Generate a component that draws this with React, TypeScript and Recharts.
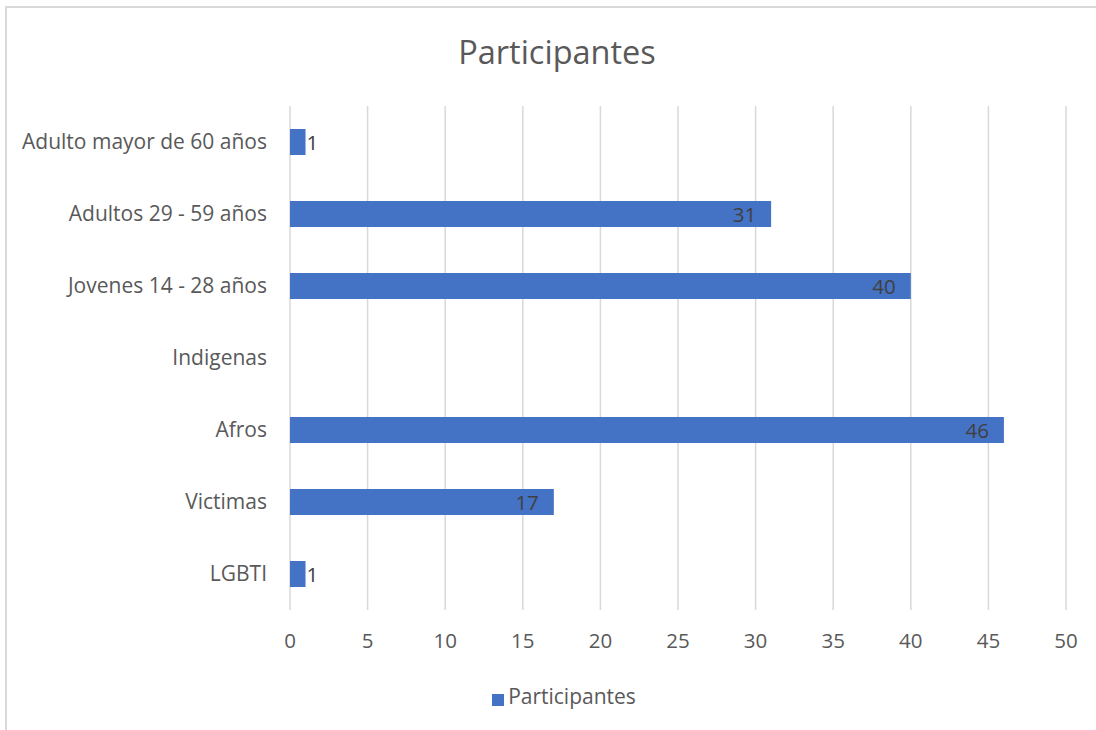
import React from "react";
import {
  BarChart,
  Bar,
  XAxis,
  YAxis,
  CartesianGrid,
  Legend,
  LabelList,
} from "recharts";

const categories = [
  "Adulto mayor de 60 años",
  "Adultos 29 - 59 años",
  "Jovenes 14 - 28 años",
  "Indigenas",
  "Afros",
  "Victimas",
  "LGBTI",
];
const participantes = [1, 31, 40, 0, 46, 17, 1];
const xTicks = [0, 5, 10, 15, 20, 25, 30, 35, 40, 45, 50];

const data = categories.map((name, i) => ({
  name,
  Participantes: participantes[i] || null,
}));

const FONT = "'Open Sans', 'Noto Sans', sans-serif";

function BarLabel(props: any) {
  const { x, y, width, height, value } = props;
  if (!value) return null;
  const inside = width > 40;
  return (
    <text
      x={inside ? x + width - 15 : x + width + 1}
      y={y + height / 2}
      textAnchor={inside ? "end" : "start"}
      dominantBaseline="central"
      fill="#404040"
      fontSize={20.5}
    >
      {value}
    </text>
  );
}

export default function App() {
  return (
    <div
      style={{
        position: "absolute",
        left: 0,
        top: 0,
        width: 1096,
        height: 730,
        overflow: "hidden",
        background: "#fff",
        fontFamily: FONT,
      }}
    >
      <div
        style={{
          position: "absolute",
          left: 5,
          top: 6,
          width: 1200,
          height: 900,
          border: "2px solid #d9d9d9",
        }}
      />
      <div
        style={{
          position: "absolute",
          left: 357,
          top: 29,
          width: 400,
          textAlign: "center",
          fontSize: 32.5,
          color: "#595959",
        }}
      >
        Participantes
      </div>
      <BarChart
        width={1096}
        height={730}
        data={data}
        layout="vertical"
        margin={{ top: 106, right: 30, left: 0, bottom: 20 }}
        barSize={26}
      >
        <CartesianGrid horizontal={false} stroke="#d9d9d9" strokeWidth={1.5} />
        <XAxis
          type="number"
          domain={[0, 50]}
          ticks={xTicks}
          axisLine={false}
          tickLine={false}
          tickSize={0}
          tickMargin={23}
          height={72}
          tick={{ fill: "#595959", fontSize: 20.5 }}
        />
        <YAxis
          type="category"
          dataKey="name"
          width={290}
          axisLine={false}
          tickLine={false}
          tickSize={0}
          tickMargin={23}
          tick={{ fill: "#595959", fontSize: 21 }}
        />
        <Legend
          verticalAlign="bottom"
          align="center"
          iconType="square"
          iconSize={12}
          wrapperStyle={{ paddingLeft: 36 }}
          formatter={(v) => (
            <span style={{ color: "#595959", fontSize: 21 }}>{v}</span>
          )}
        />
        <Bar
          dataKey="Participantes"
          fill="#4472C4"
          isAnimationActive={false}
        >
          <LabelList dataKey="Participantes" content={<BarLabel />} />
        </Bar>
      </BarChart>
    </div>
  );
}
